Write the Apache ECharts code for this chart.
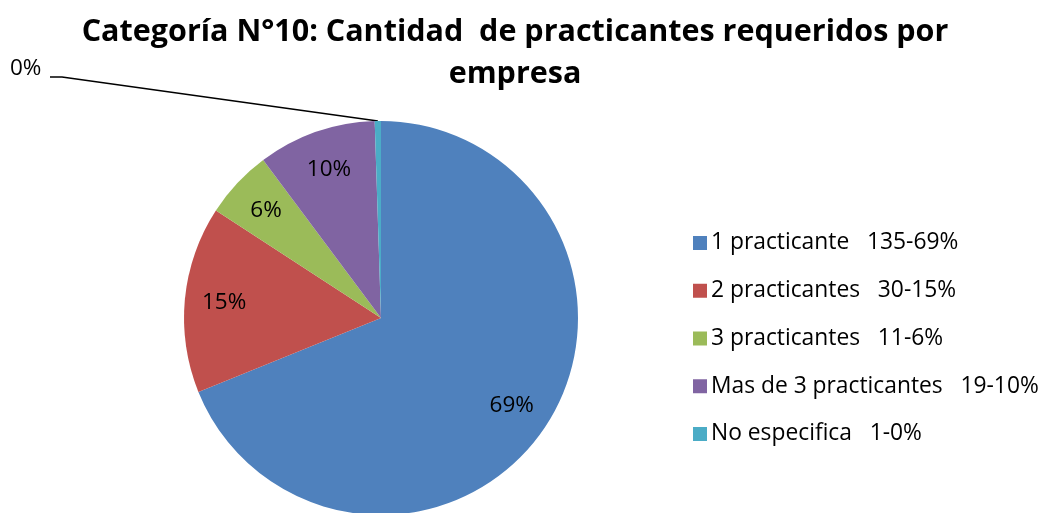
<!DOCTYPE html>
<html>
<head>
<meta charset="utf-8">
<script src="https://cdn.jsdelivr.net/npm/echarts@6/dist/echarts.min.js"></script>
<style>
  html, body { margin: 0; padding: 0; background: #fff; }
  #chart { width: 1051px; height: 513px; }
</style>
</head>
<body>
<div id="chart"></div>
<script>
const categories = [
  '1 practicante   135-69%',
  '2 practicantes   30-15%',
  '3 practicantes   11-6%',
  'Mas de 3 practicantes   19-10%',
  'No especifica   1-0%'
];
const values = [135, 30, 11, 19, 1];
const pctLabels = ['69%', '15%', '6%', '10%', '0%'];
const colors = ['#4F81BD', '#C0504D', '#9BBB59', '#8064A2', '#4BACC6'];

const cx = 381, cy = 318, R = 197;
const total = values.reduce((a, b) => a + b, 0);
const FONT = 'Open Sans';

function midAngle(i) {
  let before = 0;
  for (let k = 0; k < i; k++) before += values[k];
  const mid = before + values[i] / 2;
  return (90 - mid / total * 360) * Math.PI / 180;
}

const myChart = echarts.init(document.getElementById('chart'));

const option = {
  animation: false,
  title: {
    text: 'Categoría N°10: Cantidad  de practicantes requeridos por\nempresa',
    left: 510,
    textAlign: 'center',
    top: 6,
    textStyle: {
      fontFamily: FONT,
      fontWeight: 'bold',
      fontSize: 30.5,
      lineHeight: 42,
      color: '#000'
    }
  },
  legend: {
    orient: 'vertical',
    left: 688,
    top: 226,
    itemWidth: 14,
    itemHeight: 14,
    itemGap: 23.75,
    icon: 'rect',
    textStyle: {
      fontFamily: FONT,
      fontSize: 22.8,
      lineHeight: 24,
      color: '#000',
      padding: [0, 0, 0, -1]
    },
    data: categories
  },
  series: [{
    type: 'pie',
    center: [cx, cy],
    radius: [0, R],
    startAngle: 90,
    clockwise: true,
    silent: true,
    color: colors,
    itemStyle: { borderWidth: 0 },
    label: {
      show: true,
      position: 'inside',
      fontFamily: FONT,
      fontSize: 22.5,
      color: '#000',
      formatter: p => pctLabels[p.dataIndex]
    },
    labelLine: { show: false },
    labelLayout: function (p) {
      const i = p.dataIndex;
      if (i === values.length - 1) {
        const a = midAngle(i);
        const ax = cx + R * Math.cos(a), ay = cy - R * Math.sin(a);
        return {
          x: 10, y: 69, align: 'left', verticalAlign: 'middle',
          labelLinePoints: [[ax, ay], [62, 77], [50, 77]]
        };
      }
      const a = midAngle(i);
      return {
        x: cx + 0.8 * R * Math.cos(a),
        y: cy - 0.8 * R * Math.sin(a),
        align: 'center',
        verticalAlign: 'middle'
      };
    },
    data: categories.map((name, i) => {
      const item = { name: name, value: values[i] };
      if (i === values.length - 1) {
        item.label = { position: 'outside' };
        item.labelLine = { show: true, lineStyle: { color: '#000', width: 1.5 } };
      }
      return item;
    })
  }]
};

myChart.setOption(option);
</script>
</body>
</html>
